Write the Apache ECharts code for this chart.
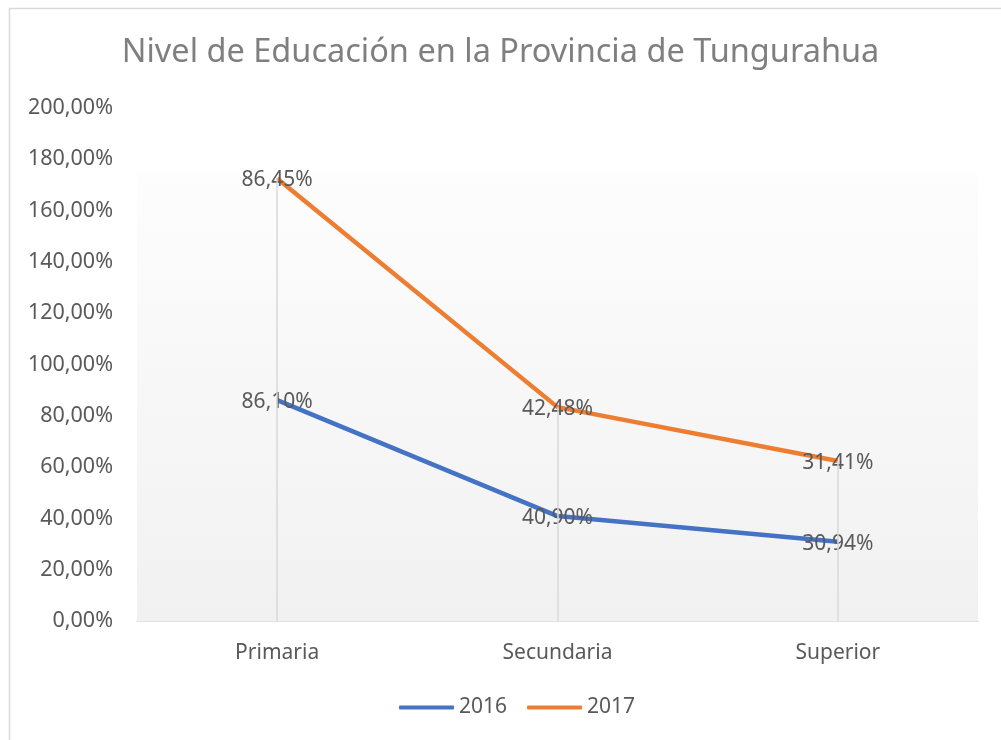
<!DOCTYPE html>
<html>
<head>
<meta charset="utf-8">
<title>Nivel de Educación</title>
<script src="https://cdn.jsdelivr.net/npm/echarts@6/dist/echarts.min.js"></script>
<style>
  html, body { margin: 0; padding: 0; background: #fff; }
  #main { width: 1001px; height: 740px; }
</style>
</head>
<body>
<div id="main"></div>
<script>
// datos
const categories = ['Primaria', 'Secundaria', 'Superior'];
const values2016 = [86.10, 40.90, 30.94];
const values2017 = [86.45, 42.48, 31.41];
const yTicks = { min: 0, max: 200, interval: 20 };

// las series están apiladas, las líneas de caída van hasta el total
const totals = values2016.map((v, i) => v + values2017[i]);

const fmt = v => v.toFixed(2).replace('.', ',') + '%';
const FONT = 'Noto Sans';

let chart = echarts.init(document.getElementById('main'));

let option = {
  animation: false,
  title: {
    text: 'Nivel de Educación en la Provincia de Tungurahua',
    left: 'center',
    top: 31,
    textStyle: { fontFamily: FONT, fontSize: 32.5, fontWeight: 'normal', color: '#7f7f7f' }
  },
  graphic: [
    {
      type: 'rect',
      shape: { x: 9.5, y: 8.5, width: 1100, height: 800 },
      style: { fill: 'none', stroke: '#d9d9d9', lineWidth: 1.5 },
      silent: true
    }
  ],
  legend: {
    data: ['2016', '2017'],
    bottom: 17,
    left: 394,
    itemWidth: 55,
    itemHeight: 4,
    itemGap: 20,
    icon: 'roundRect',
    textStyle: { fontFamily: FONT, fontSize: 21, color: '#595959' }
  },
  grid: { left: 137, right: 23, top: 108, bottom: 119 },
  xAxis: {
    type: 'category',
    data: categories,
    boundaryGap: true,
    axisLine: { lineStyle: { color: '#d9d9d9', width: 1.5 } },
    axisTick: { show: false },
    axisLabel: { fontFamily: FONT, fontSize: 21, color: '#595959', margin: 22 }
  },
  yAxis: {
    type: 'value',
    min: yTicks.min,
    max: yTicks.max,
    interval: yTicks.interval,
    axisLine: { show: false },
    axisTick: { show: false },
    splitLine: { show: false },
    axisLabel: { fontFamily: FONT, fontSize: 21.5, color: '#595959', margin: 24, formatter: v => fmt(v) }
  },
  series: [
    {
      name: 'fondo',
      type: 'line',
      data: [],
      z: 1,
      silent: true,
      markArea: {
        silent: true,
        itemStyle: {
          color: new echarts.graphic.LinearGradient(0, 0, 0, 1, [
            { offset: 0, color: '#fdfdfd' },
            { offset: 1, color: '#f1f1f1' }
          ])
        },
        data: [[{ yAxis: 175 }, { yAxis: 0 }]]
      },
      markLine: {
        silent: true,
        symbol: 'none',
        label: { show: false },
        lineStyle: { color: '#d9d9d9', width: 1.5, type: 'solid' },
        data: categories.map((c, i) => [{ coord: [c, 0] }, { coord: [c, totals[i]] }])
      }
    },
    {
      name: '2016',
      type: 'line',
      stack: 'total',
      data: values2016,
      z: 3,
      symbol: 'circle',
      symbolSize: 1,
      lineStyle: { color: '#4472c4', width: 4.5 },
      itemStyle: { color: '#4472c4' },
      label: {
        show: true,
        position: 'inside',
        offset: [0, 2],
        fontFamily: FONT,
        fontSize: 21,
        color: '#595959',
        formatter: p => fmt(values2016[p.dataIndex])
      }
    },
    {
      name: '2017',
      type: 'line',
      stack: 'total',
      data: values2017,
      z: 3,
      symbol: 'circle',
      symbolSize: 1,
      lineStyle: { color: '#ed7d31', width: 4.5 },
      itemStyle: { color: '#ed7d31' },
      label: {
        show: true,
        position: 'inside',
        offset: [0, 2],
        fontFamily: FONT,
        fontSize: 21,
        color: '#595959',
        formatter: p => fmt(values2017[p.dataIndex])
      }
    }
  ]
};

chart.setOption(option);
</script>
</body>
</html>
